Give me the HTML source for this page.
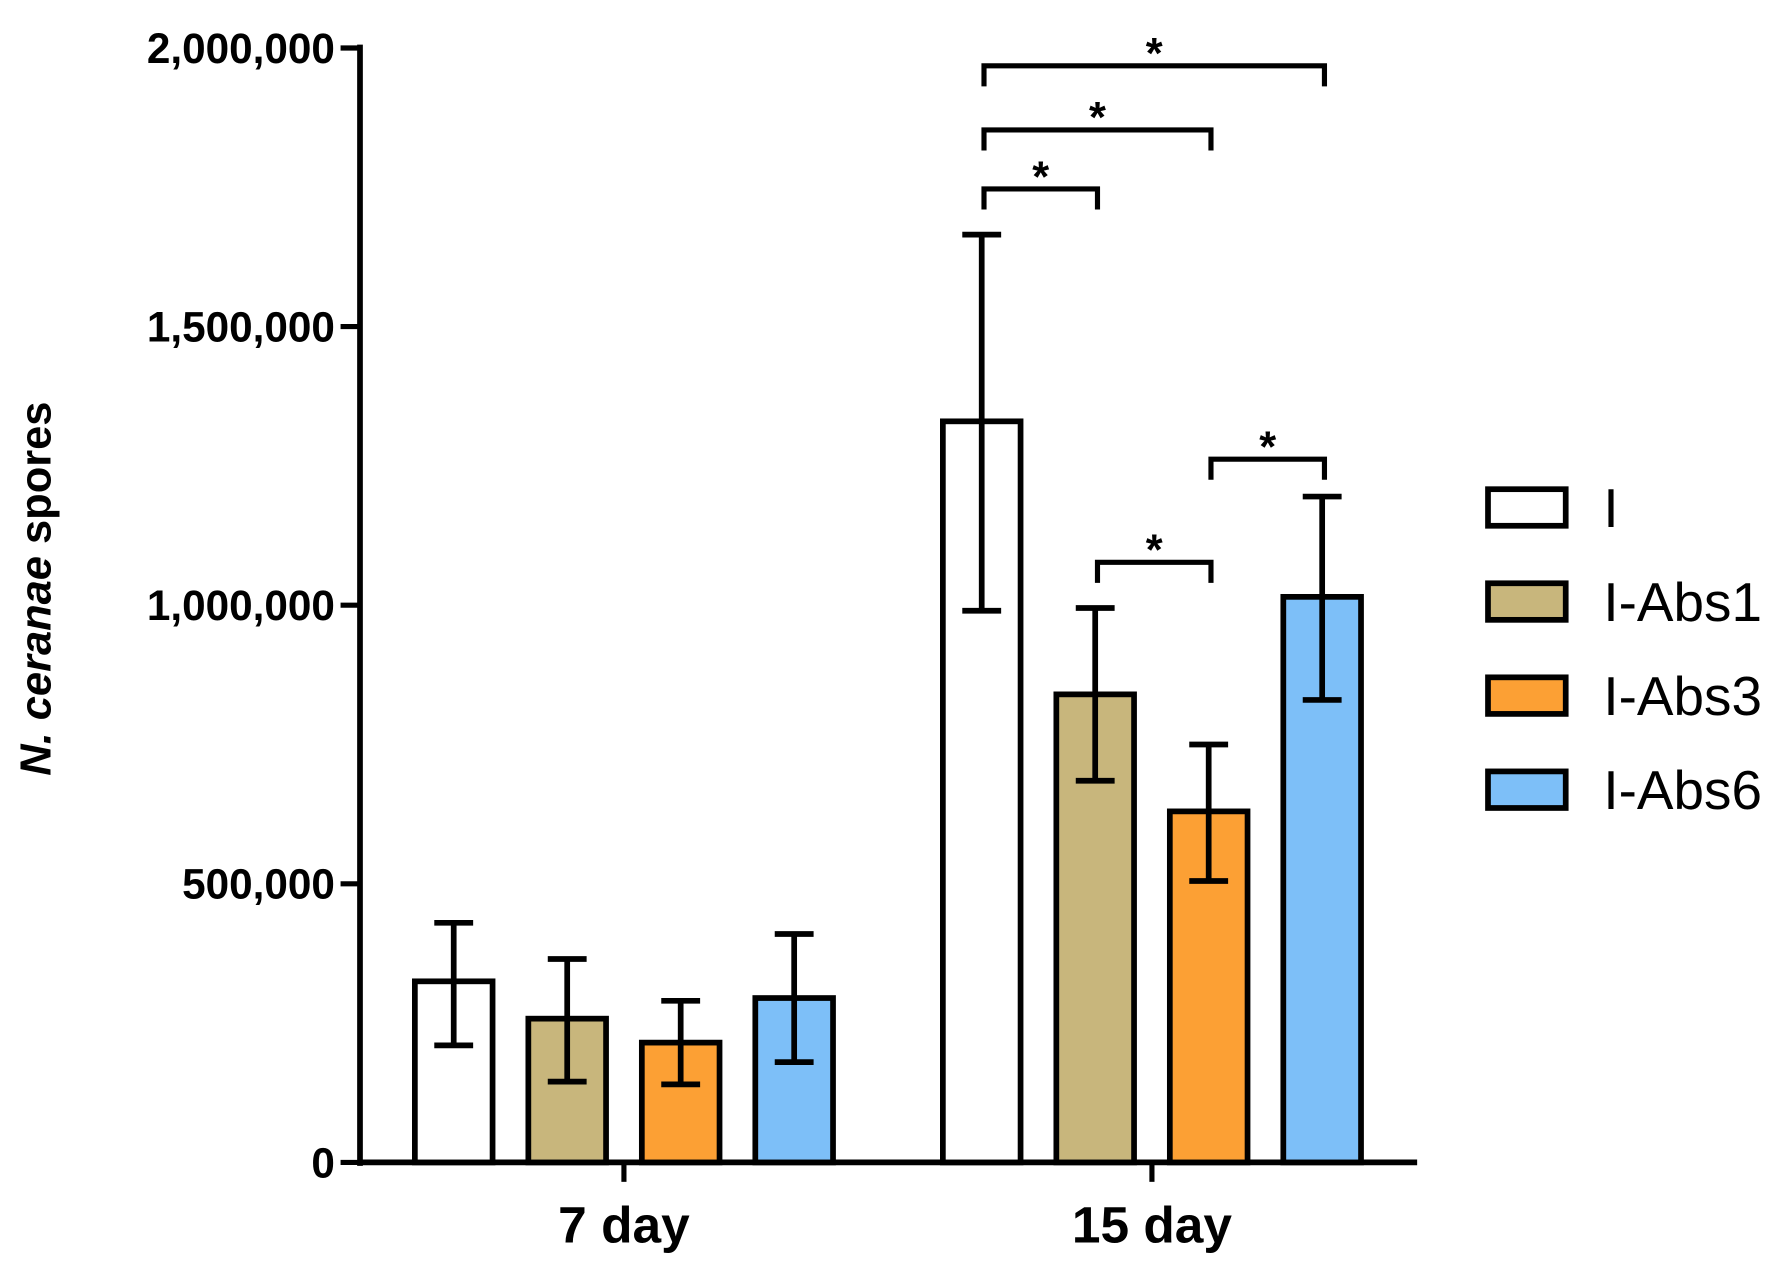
<!DOCTYPE html>
<html><head><meta charset="utf-8"><style>html,body{margin:0;padding:0;background:#fff}svg{display:block}</style></head>
<body>
<svg id="chart" width="1792" height="1271" viewBox="0 0 1568 1112" preserveAspectRatio="none" xmlns="http://www.w3.org/2000/svg" font-family="'Liberation Sans', Arial, sans-serif">
<rect width="1568" height="1112" fill="#fff"/>
<g id="axes"></g><g id="bars"></g><g id="sig"></g><g id="legend"></g>
</svg>
<script>
const groups = ["7 day", "15 day"];
const series = ["I", "I-Abs1", "I-Abs3", "I-Abs6"];
const colors = ["#ffffff", "#c8b67c", "#fca034", "#7dbff8"];
const means = [[325000, 258000, 215000, 295000], [1330000, 840000, 630000, 1015000]];
const lows = [[210000, 145000, 140000, 180000], [990000, 685000, 505000, 830000]];
const highs = [[430000, 365000, 290000, 410000], [1665000, 995000, 750000, 1195000]];
const yTicks = [0, 500000, 1000000, 1500000, 2000000];
const yTickLabels = ["0", "500,000", "1,000,000", "1,500,000", "2,000,000"];
const sigPairs = [[0,3],[0,2],[0,1],[2,3],[1,2]];
const sigY = [1968000, 1853000, 1747000, 1262000, 1077000];

const NS = "http://www.w3.org/2000/svg";
function mk(tag, attrs, parent, text){const e=document.createElementNS(NS,tag);for(const k in attrs)e.setAttribute(k,attrs[k]);if(text!==undefined)e.textContent=text;parent.appendChild(e);return e;}
const y0=1017, y1=42, xAxis=315, xEnd=1240;
const yScale=v=>y0-(v/2000000)*(y0-y1);
const groupStart=[363,825], barStep=99.3, barW=68;
const xBar=(g,s)=>groupStart[g]+s*barStep;
const xCenter=(g,s)=>xBar(g,s)+barW/2;

const axes=document.getElementById('axes');
let el=mk('line',{x1:xAxis,y1:y1-3,x2:xAxis,y2:y0+3,stroke:'#000','stroke-width':5},axes);


el=mk('line',{x1:xAxis-2,y1:y0,x2:xEnd,y2:y0,stroke:'#000','stroke-width':5},axes);


yTicks.forEach((t,i)=>{
  const y=yScale(t);
  el=mk('line',{x1:xAxis-17,y1:y,x2:xAxis,y2:y,stroke:'#000','stroke-width':4.5},axes);
  
  
  el=mk('text',{x:xAxis-22,y:y+13,'text-anchor':'end','font-size':37,'font-weight':'bold'},axes,yTickLabels[i]);
  
  
});
groups.forEach((g,gi)=>{
  const cx=(xBar(gi,0)+xBar(gi,3)+barW)/2;
  el=mk('line',{x1:cx,y1:y0,x2:cx,y2:y0+17,stroke:'#000','stroke-width':4.5},axes);
  
  
  el=mk('text',{x:cx,y:y0+70,'text-anchor':'middle','font-size':45,'font-weight':'bold'},axes,g);
  
  
});
el=mk('text',{transform:'translate(44,515) rotate(-90)','text-anchor':'middle','font-size':38,'font-weight':'bold'},axes);


mk('tspan',{'font-style':'italic'},el,'N. ceranae');
mk('tspan',{},el,' spores');

const bars=document.getElementById('bars');
groups.forEach((g,gi)=>series.forEach((s,si)=>{
  const v=means[gi][si], y=yScale(v);
  el=mk('rect',{x:xBar(gi,si),y:y,width:barW,height:y0-y,fill:colors[si],stroke:'#000','stroke-width':5},bars);
  
  
  const cx=xCenter(gi,si), yl=yScale(lows[gi][si]), yh=yScale(highs[gi][si]);
  el=mk('path',{d:`M${cx},${yl}V${yh}M${cx-17},${yh}H${cx+17}M${cx-17},${yl}H${cx+17}`,stroke:'#000','stroke-width':5,fill:'none'},bars);
  
  
}));

const sig=document.getElementById('sig');
sigPairs.forEach((p,i)=>{
  const xa=xCenter(1,p[0])+2, xb=xCenter(1,p[1])+2, y=yScale(sigY[i]);
  el=mk('path',{d:`M${xa},${y+18}V${y}H${xb}V${y+18}`,stroke:'#000','stroke-width':4.5,fill:'none'},sig);
  
  
  el=mk('text',{x:(xa+xb)/2,y:y+2,'text-anchor':'middle','font-size':38,'font-weight':'bold'},sig,'*');
  
  
});

const legend=document.getElementById('legend');
series.forEach((s,i)=>{
  const y=428+i*82.3;
  const g=mk('g',{},legend);
  
  
  mk('rect',{x:1302,y:y,width:68,height:32,fill:colors[i],stroke:'#000','stroke-width':5},g);
  mk('text',{x:1403,y:y+33,'font-size':48},g,s);
});
</script>
</body></html>
